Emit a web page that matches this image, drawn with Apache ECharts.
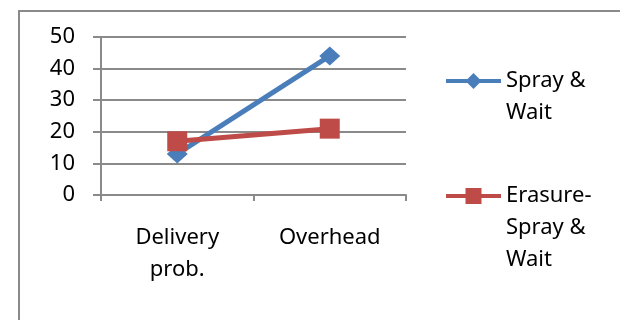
<!DOCTYPE html>
<html>
<head>
<meta charset="utf-8">
<script src="https://cdn.jsdelivr.net/npm/echarts@6/dist/echarts.min.js"></script>
<style>
  html, body { margin: 0; padding: 0; background: #fff; }
  #chart { width: 620px; height: 320px; }
</style>
</head>
<body>
<div id="chart"></div>
<script>
// Categories and values for the two protocols
var categories = ['Delivery\nprob.', 'Overhead'];
var sprayWait = [13, 44];
var erasureSprayWait = [17, 21];
var yTicks = { min: 0, max: 50, interval: 10 };

var FONT = 'Noto Sans';
var GRAY = '#8a8a8a';
var BLUE = '#4a7ebb';
var RED = '#be4b48';
var LINE_H = 32;

var chart = echarts.init(document.getElementById('chart'));

// Legend labels wrap onto several lines. The block is centred on the icon,
// so blank lines are put in front to keep the first line level with it.
function wrapLegend(lines) {
  var pad = [];
  for (var i = 1; i < lines.length; i++) pad.push('');
  return pad.concat(lines).join('\n');
}

var legendTextStyle = { fontFamily: FONT, fontSize: 22, lineHeight: LINE_H, color: '#000' };

chart.setOption({
  animation: false,
  textStyle: { fontFamily: FONT, color: '#000' },
  graphic: [
    {
      type: 'rect',
      shape: { x: 19, y: 11, width: 800, height: 500 },
      style: { fill: 'none', stroke: GRAY, lineWidth: 2 },
      z: -1
    }
  ],
  grid: { left: 101, right: 214, top: 37, bottom: 125 },
  legend: [
    {
      left: 444, top: 33, padding: 0,
      itemWidth: 55, itemHeight: 20,
      lineStyle: { width: 4 },
      data: [{ name: 'Spray & Wait' }],
      formatter: function () { return wrapLegend(['Spray &', 'Wait']); },
      textStyle: legendTextStyle
    },
    {
      left: 444, top: 116, padding: 0,
      itemWidth: 55, itemHeight: 20,
      lineStyle: { width: 4 },
      data: [{ name: 'Erasure-Spray & Wait' }],
      formatter: function () { return wrapLegend(['Erasure-', 'Spray &', 'Wait']); },
      textStyle: legendTextStyle
    }
  ],
  xAxis: {
    type: 'category',
    data: categories,
    boundaryGap: true,
    axisLine: { lineStyle: { color: GRAY, width: 2 } },
    axisTick: { show: true, length: 6, lineStyle: { color: GRAY, width: 2 } },
    axisLabel: { fontFamily: FONT, fontSize: 22, lineHeight: LINE_H, color: '#000', margin: 27 }
  },
  yAxis: {
    type: 'value',
    min: yTicks.min, max: yTicks.max, interval: yTicks.interval,
    axisLine: { show: true, lineStyle: { color: GRAY, width: 2 } },
    axisTick: { show: true, length: 8, lineStyle: { color: GRAY, width: 2 } },
    splitLine: { show: true, lineStyle: { color: GRAY, width: 2 } },
    axisLabel: { fontFamily: FONT, fontSize: 22, color: '#000', margin: 26 }
  },
  series: [
    {
      name: 'Spray & Wait',
      type: 'line',
      data: sprayWait,
      symbol: 'diamond',
      symbolSize: [21, 19],
      lineStyle: { color: BLUE, width: 5 },
      itemStyle: { color: BLUE },
      z: 2
    },
    {
      name: 'Erasure-Spray & Wait',
      type: 'line',
      data: erasureSprayWait,
      symbol: 'rect',
      symbolSize: 20,
      lineStyle: { color: RED, width: 5 },
      itemStyle: { color: RED },
      z: 3
    }
  ]
});
</script>
</body>
</html>
